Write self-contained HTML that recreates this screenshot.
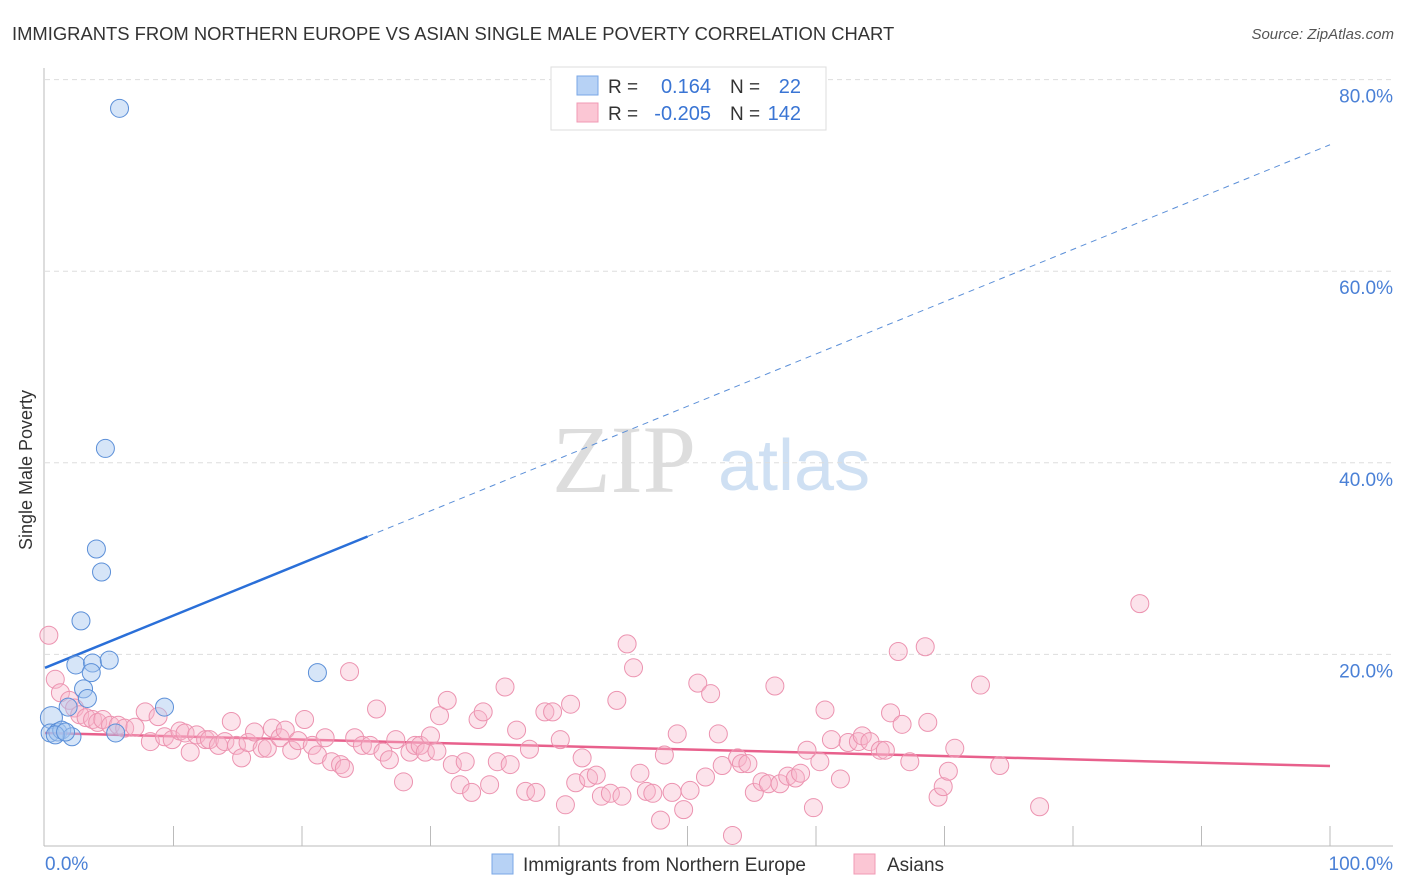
<!DOCTYPE html>
<html><head><meta charset="utf-8"><style>
body{margin:0;background:#fff;font-family:"Liberation Sans",sans-serif}
svg{display:block}
</style></head><body>
<svg id="chart" width="1406" height="892" xmlns="http://www.w3.org/2000/svg">
<text x="12" y="40" font-size="18.4" fill="#333">IMMIGRANTS FROM NORTHERN EUROPE VS ASIAN SINGLE MALE POVERTY CORRELATION CHART</text>
<text x="1394" y="39" font-size="15" fill="#555" font-style="italic" text-anchor="end">Source: ZipAtlas.com</text>
<g>
<text x="552" y="492" font-size="96" font-family="Liberation Serif,serif" fill="#ddd">ZIP</text>
<text x="718" y="490" font-size="72" fill="#cfe0f3">atlas</text>
</g>
<g id="grid"></g>
<g id="axes"></g>
<g id="lines"></g>
<g id="pts"></g>
<text x="18" y="456" font-size="18" fill="#333" transform="rotate(-90 32 456)" text-anchor="middle">Single Male Poverty</text>
<g>
<rect x="551" y="67" width="275" height="63" fill="#fff" stroke="#ddd"/>
<rect x="577" y="76" width="21" height="19" fill="#b7d2f5" stroke="#7aa7e6"/>
<rect x="577" y="103" width="21" height="19" fill="#fbc6d4" stroke="#f09ab4"/>
<text x="608" y="93" font-size="19" fill="#333">R =</text>
<text x="711" y="93" font-size="20" fill="#3a75d4" text-anchor="end">0.164</text>
<text x="730" y="93" font-size="19" fill="#333">N =</text>
<text x="801" y="93" font-size="20" fill="#3a75d4" text-anchor="end">22</text>
<text x="608" y="120" font-size="19" fill="#333">R =</text>
<text x="711" y="120" font-size="20" fill="#3a75d4" text-anchor="end">-0.205</text>
<text x="730" y="120" font-size="19" fill="#333">N =</text>
<text x="801" y="120" font-size="20" fill="#3a75d4" text-anchor="end">142</text>
</g>
<g>
<rect x="492" y="854" width="21" height="20" fill="#b7d2f5" stroke="#7aa7e6"/>
<text x="523" y="871" font-size="19" fill="#333">Immigrants from Northern Europe</text>
<rect x="854" y="854" width="21" height="20" fill="#fbc6d4" stroke="#f09ab4"/>
<text x="887" y="871" font-size="19" fill="#333">Asians</text>
</g>
</svg>
<script>
const yTicks=[20,40,60,80];
const yTickLabels=["20.0%","40.0%","60.0%","80.0%"];
const xTickLabels=["0.0%","100.0%"];
const blueX=[5.8,4.7,4.0,4.4,2.8,2.4,3.7,5.0,3.6,3.0,3.3,21.2,9.3,1.8,0.5,0.4,1.0,1.3,2.1,5.5,0.8,1.6];
const blueY=[77.0,41.5,31.0,28.6,23.5,18.9,19.1,19.4,18.1,16.4,15.4,18.1,14.5,14.5,13.4,11.8,11.9,12.1,11.4,11.8,11.6,11.9];
const pinkX=[0.3,0.8,1.2,1.9,2.3,2.7,3.2,3.7,4.1,4.5,5.1,5.7,6.2,7.0,7.8,8.2,8.8,9.3,9.9,10.5,10.9,11.3,11.8,12.5,12.8,13.5,14.0,14.5,14.9,15.3,15.8,16.3,16.9,17.3,17.7,18.3,18.7,19.2,19.7,20.2,20.8,21.2,21.8,22.3,23.0,23.3,23.7,24.1,24.7,25.3,25.8,26.3,26.8,27.3,27.9,28.4,28.8,29.2,29.6,30.0,30.5,30.7,31.3,31.7,32.3,32.7,33.2,33.7,34.1,34.6,35.2,35.8,36.2,36.7,37.4,37.7,38.2,38.9,39.5,40.1,40.5,40.9,41.3,41.8,42.3,42.9,43.3,44.0,44.5,44.9,45.3,45.8,46.3,46.8,47.3,47.9,48.2,48.8,49.2,49.7,50.2,50.8,51.4,51.8,52.4,52.7,53.5,53.9,54.2,54.7,55.2,55.8,56.3,56.8,57.2,57.8,58.4,58.8,59.3,59.8,60.3,60.7,61.2,61.9,62.5,63.3,63.6,64.2,65.0,65.4,65.8,66.4,66.7,67.3,68.5,68.7,69.5,69.9,70.3,70.8,72.8,74.3,77.4,85.2];
const pinkY=[22.0,17.4,16.0,15.2,14.4,13.7,13.4,13.2,12.9,13.2,12.6,12.6,12.3,12.4,14.0,10.9,13.5,11.4,11.1,12.0,11.8,9.8,11.6,11.1,11.1,10.5,10.9,13.0,10.5,9.2,10.8,11.9,10.2,10.2,12.3,11.3,12.1,10.0,11.0,13.2,10.5,9.5,11.3,8.8,8.5,8.1,18.2,11.3,10.5,10.5,14.3,9.8,9.0,11.1,6.7,9.8,10.5,10.5,9.8,11.5,9.9,13.6,15.2,8.5,6.4,8.8,5.6,13.2,14.0,6.4,8.8,16.6,8.5,12.1,5.7,10.1,5.6,14.0,14.0,11.1,4.3,14.8,6.6,9.2,7.1,7.4,5.2,5.5,15.2,5.2,21.1,18.6,7.6,5.7,5.5,2.7,9.5,5.6,11.7,3.8,5.8,17.0,7.2,15.9,11.7,8.4,1.1,9.2,8.6,8.6,5.6,6.7,6.5,16.7,6.5,7.3,7.1,7.6,10.0,4.0,8.8,14.2,11.1,7.0,10.8,10.9,11.5,10.9,10.0,10.0,13.9,20.3,12.7,8.8,20.8,12.9,5.1,6.2,7.8,10.2,16.8,8.4,4.1,25.3];
const blueTrend=[18.6,73.2];
const pinkTrend=[11.8,8.35];
const NS="http://www.w3.org/2000/svg";
const X=v=>45+v*12.85, Y=v=>846-v*9.58;
function mk(p,t,a){const e=document.createElementNS(NS,t);for(const k in a)e.setAttribute(k,a[k]);document.getElementById(p).appendChild(e);return e;}
yTicks.forEach((t,i)=>{
 const g=mk('grid','line',{x1:45,x2:1393,y1:Y(t),y2:Y(t),stroke:'#ddd','stroke-dasharray':'5,4'});
 
 
 const l=mk('axes','text',{x:1393,y:Y(t)+23,'font-size':19,fill:'#4a80d6','text-anchor':'end'});
 l.textContent=yTickLabels[i];
 
 
});
mk('axes','line',{x1:44,x2:44,y1:68,y2:846,stroke:'#bbb'});
mk('axes','line',{x1:44,x2:1393,y1:846,y2:846,stroke:'#bbb'});
for(let i=1;i<=10;i++){const t=mk('axes','line',{x1:X(i*10),x2:X(i*10),y1:826,y2:846,stroke:'#bbb'});}
const xl0=mk('axes','text',{x:45,y:870,'font-size':19,fill:'#4a80d6'});xl0.textContent=xTickLabels[0];


const xl1=mk('axes','text',{x:1393,y:870,'font-size':19,fill:'#4a80d6','text-anchor':'end'});xl1.textContent=xTickLabels[1];


pinkX.forEach((x,i)=>{const c=mk('pts','circle',{cx:X(x),cy:Y(pinkY[i]),r:9,fill:'rgba(248,182,202,0.38)',stroke:'#ec93b0','stroke-width':1});
 
 });
blueX.forEach((x,i)=>{const c=mk('pts','circle',{cx:X(x),cy:Y(blueY[i]),r:(i==14?11:9),fill:'rgba(165,198,240,0.45)',stroke:'#5b8fd8','stroke-width':1});
 
 });
const bAt=v=>blueTrend[0]+(blueTrend[1]-blueTrend[0])*v/100;
const b1=mk('lines','line',{x1:X(0),y1:Y(bAt(0)),x2:X(25.1),y2:Y(bAt(25.1)),stroke:'#2a6fd8','stroke-width':2.5});


const b2=mk('lines','line',{x1:X(25.1),y1:Y(bAt(25.1)),x2:X(100),y2:Y(bAt(100)),stroke:'#5b8fd8','stroke-width':1,'stroke-dasharray':'6,5'});


const p1=mk('lines','line',{x1:X(0),y1:Y(pinkTrend[0]),x2:X(100),y2:Y(pinkTrend[1]),stroke:'#e8608c','stroke-width':2.5});


</script>
</body></html>
